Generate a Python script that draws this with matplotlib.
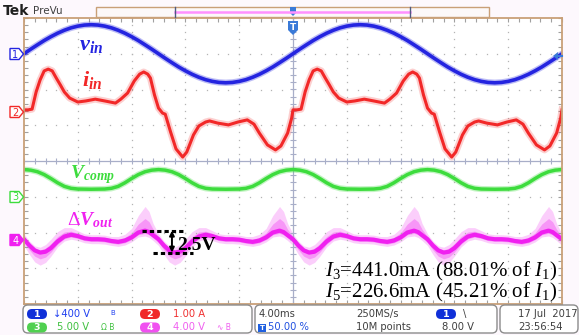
import numpy as np
import matplotlib.pyplot as plt
from matplotlib.patches import FancyBboxPatch, Rectangle, Polygon

plt.rcParams['mathtext.fontset'] = 'custom'
plt.rcParams['mathtext.rm'] = 'Liberation Serif'
plt.rcParams['mathtext.it'] = 'Liberation Serif:italic'
plt.rcParams['mathtext.bf'] = 'Liberation Serif:bold'
plt.rcParams['mathtext.bfit'] = 'Liberation Serif:italic:bold'

# scope settings: units per division, channel offset in divisions
time_per_div = 4.0   # ms
ch_scale = {1: 400.0, 2: 1.0, 3: 5.0, 4: 4.0}
ch_offset = {1: 3.0, 2: 1.37, 3: -1.0, 4: -2.2}

# ch1 v_in (V), one 20 ms line period, 0.5 ms steps
vin_t = np.arange(0, 20, 0.5)
vin = [0, 51, 100, 148, 191, 230, 263, 290, 309, 321,
       325, 321, 309, 290, 263, 230, 191, 148, 100, 51,
       0, -51, -100, -148, -191, -230, -263, -290, -309, -321,
       -325, -321, -309, -290, -263, -230, -191, -148, -100, -51]

# ch2 i_in (A), one 20 ms period
iin_t = [0.0, 0.3, 0.6, 0.9, 1.2, 1.5, 1.8, 2.1, 2.4, 2.7, 3.0, 3.4, 4.0, 4.6,
         5.3, 6.0, 6.8, 7.2, 7.7, 8.2, 8.6, 8.9, 9.2, 9.4, 9.7, 10.0, 10.3,
         10.5, 10.9, 11.3, 11.8, 12.1, 12.6, 13.0, 13.5, 13.8, 14.4, 15.2,
         15.9, 16.6, 17.1, 17.5, 18.1, 18.7, 19.1, 19.6, 19.9]
iin = [0.06, 0.06, 0.08, 0.56, 0.90, 1.15, 1.20, 1.15, 0.95, 0.76, 0.56, 0.39,
       0.28, 0.31, 0.36, 0.31, 0.25, 0.36, 0.53, 0.87, 1.06, 1.12, 1.06, 0.95,
       0.48, 0.11, -0.03, -0.06, -0.56, -1.03, -1.26, -1.12, -0.64, -0.39,
       -0.28, -0.25, -0.31, -0.36, -0.28, -0.22, -0.34, -0.59, -0.92, -1.06,
       -0.95, -0.59, -0.17]

# ch3 Vcomp (V), one 10 ms period
vcomp_t = [0, 0.5, 1, 1.5, 2, 2.5, 3, 3.5, 4, 5, 6, 6.5, 7, 7.5, 8, 8.5, 9, 9.5]
vcomp = [3.8, 3.72, 3.5, 3.1, 2.55, 1.95, 1.45, 1.18, 1.08, 1.05, 1.08, 1.18,
         1.45, 1.95, 2.55, 3.1, 3.5, 3.72]

# ch4 delta Vout (V), one 10 ms period, with persistence spread up / down
dvout_t = [0.0, 0.4, 0.8, 1.2, 1.6, 2.0, 2.5, 3.0, 3.5, 4.0, 4.5, 5.0, 5.5,
           6.0, 6.5, 7.0, 7.5, 8.0, 8.5, 9.0, 9.3, 9.6]
dvout = [0.05, -0.65, -1.2, -1.45, -1.35, -0.95, -0.2, 0.35, 0.55, 0.4, 0.15,
         0.05, 0.05, 0.0, -0.15, -0.25, -0.1, 0.25, 0.8, 1.01, 0.85, 0.5]
dvout_up = [0.6, 0.5, 0.5, 0.6, 0.8, 1.0, 1.1, 1.0, 0.8, 0.6, 0.5, 0.5, 0.5,
            0.5, 0.5, 0.6, 0.7, 1.0, 1.9, 2.7, 2.3, 1.3]
dvout_dn = [0.7, 1.0, 1.3, 1.4, 1.2, 0.9, 0.6, 0.5, 0.5, 0.5, 0.5, 0.5, 0.5,
            0.5, 0.5, 0.5, 0.5, 0.5, 0.5, 0.6, 0.6, 0.6]

i3_text = r'$I_3$=441.0mA (88.01% of $I_1$)'
i5_text = r'$I_5$=226.6mA (45.21% of $I_1$)'

t_end = 10 * time_per_div


def repeat(t, v, period):
    # the waveforms are periodic: repeat the read period across the screen
    n = int(round(t_end / period))
    tt = np.concatenate([np.asarray(t) + k * period for k in range(n)] + [[t_end]])
    vv = np.concatenate([np.asarray(v, float)] * n + [[v[0]]])
    return tt, vv


def to_div(v, ch):
    return ch_offset[ch] + np.asarray(v) / ch_scale[ch]


blue, red, green, pink = '#2424e0', '#f22828', '#3ddc3d', '#f020f0'

fig = plt.figure(figsize=(5.79, 3.35), dpi=100, facecolor='#fdf8fd')
ax = fig.add_axes([24 / 579, 1 - 304 / 335, 538 / 579, 286 / 335])
ax.set_facecolor('white')
ax.set_xlim(0, t_end)
ax.set_ylim(-4, 4)

# graticule
ax.set_xticks(np.arange(0, t_end + 0.1, time_per_div))
ax.set_xticks(np.arange(0, t_end + 0.1, time_per_div / 5), minor=True)
ax.set_yticks(np.arange(-4, 5, 1))
ax.set_yticks(np.arange(-4, 4.01, 0.2), minor=True)
ax.tick_params(which='both', direction='in', top=True, right=True,
               labelbottom=False, labelleft=False, color='#a0a0a0',
               length=3, width=0.8)
for s in ax.spines.values():
    s.set_color('#c9a078')
    s.set_linewidth(1.3)

minor_t = np.arange(0, t_end + 0.1, time_per_div / 5)
minor_y = np.arange(-4, 4.01, 0.2)
for k in range(1, 10):
    if k != 5:
        ax.plot(np.full(minor_y.size, k * time_per_div), minor_y, ls='none',
                marker='s', ms=0.9, color='#b4b4b4', mew=0)
for j in range(-3, 4):
    if j != 0:
        ax.plot(minor_t, np.full(minor_t.size, j), ls='none',
                marker='s', ms=0.9, color='#b4b4b4', mew=0)
ax.axvline(t_end / 2, color='#a8aec8', lw=0.9)
ax.axhline(0, color='#a8aec8', lw=0.9)
ax.plot(minor_t, np.zeros(minor_t.size), ls='none', marker='|', ms=4,
        color='#a8aec8', mew=0.8)
ax.plot(np.full(minor_y.size, t_end / 2), minor_y, ls='none', marker='_',
        ms=4, color='#a8aec8', mew=0.8)

# traces
t1, v1 = repeat(vin_t, vin, 20)
ax.plot(t1, to_div(v1, 1), color=blue, lw=4.6, alpha=0.3, solid_capstyle='round')
ax.plot(t1, to_div(v1, 1), color=blue, lw=2.6)

t2, v2 = repeat(iin_t, iin, 20)
ax.plot(t2, to_div(v2, 2), color=red, lw=5.0, alpha=0.22, solid_joinstyle='round')
ax.plot(t2, to_div(v2, 2), color=red, lw=2.2, solid_joinstyle='round')

t3, v3 = repeat(vcomp_t, vcomp, 10)
ax.plot(t3, to_div(v3, 3), color=green, lw=4.4, alpha=0.3)
ax.plot(t3, to_div(v3, 3), color=green, lw=2.5)

t4, v4 = repeat(dvout_t, dvout, 10)
_, up4 = repeat(dvout_t, dvout_up, 10)
_, dn4 = repeat(dvout_t, dvout_dn, 10)
ax.fill_between(t4, to_div(v4 + up4, 4), to_div(v4 - dn4, 4), color=pink,
                alpha=0.22, lw=0)
ax.fill_between(t4, to_div(v4 + up4 / 2, 4), to_div(v4 - dn4 / 2, 4),
                color=pink, alpha=0.32, lw=0)
ax.plot(t4, to_div(v4, 4), color=pink, lw=3.0, solid_joinstyle='round')

# labels on the traces
ax.text(4.1, 3.1, r'$\mathbfit{v}_{\mathbfit{in}}$', color=blue, fontsize=16,
        va='baseline')
ax.text(4.3, 2.1, r'$\mathbfit{i}_{\mathbfit{in}}$', color=red, fontsize=16,
        va='baseline')
ax.text(3.4, -0.48, r'$\mathbfit{V}_{\mathbfit{comp}}$', color=green,
        fontsize=14, va='baseline')
ax.text(3.2, -1.8, r'$\Delta\mathbfit{V}_{\mathbfit{out}}$', color=pink,
        fontsize=14, va='baseline')

# ripple annotation
top = to_div(max(dvout), 4)
bot = to_div(min(dvout), 4)
ax.plot([8.8, 11.8], [top, top], color='black', lw=2.2, dashes=(1.4, 1.0))
ax.plot([9.6, 12.6], [bot, bot], color='black', lw=2.2, dashes=(1.4, 1.0))
ax.annotate('', xy=(11.0, bot), xytext=(11.0, top),
            arrowprops=dict(arrowstyle='<|-|>', color='black', lw=1.4,
                            mutation_scale=7, shrinkA=0, shrinkB=0))
ax.text(11.4, -2.48, '2.5V', fontsize=14, fontfamily='Liberation Serif',
        fontweight='bold', va='baseline')

ax.text(39.6, -3.22, i3_text, fontsize=15, fontfamily='Liberation Serif',
        ha='right', va='baseline')
ax.text(39.6, -3.83, i5_text, fontsize=15, fontfamily='Liberation Serif',
        ha='right', va='baseline')

# scope frame decorations, in screen pixels
ov = fig.add_axes([0, 0, 1, 1], zorder=3)
ov.set_xlim(0, 579)
ov.set_ylim(335, 0)
ov.axis('off')
ov.patch.set_alpha(0)

ov.text(3, 11, 'Tek', fontsize=10, fontweight='bold', color='#202020', va='center')
ov.text(33, 11, 'PreVu', fontsize=7.5, color='#404040', va='center')
ov.add_patch(Rectangle((96, 7), 393, 10, fc='#fcf8f8', ec='#c9a078', lw=1))
ov.plot([175, 410], [11.5, 11.5], color='#ff90ff', lw=1.8)
ov.plot([175, 175], [7, 17], color='#505a80', lw=1)
ov.plot([410, 410], [7, 17], color='#505a80', lw=1)
ov.add_patch(Polygon([(290, 7), (296, 7), (296, 13), (293, 16), (290, 13)],
                     fc='#3a7ad8', ec='none'))
ov.add_patch(Polygon([(288, 21), (298, 21), (298, 30), (293, 35), (288, 30)],
                     fc='#3a7ad8', ec='none'))
ov.text(293, 27, 'T', color='white', fontsize=6.5, fontweight='bold',
        ha='center', va='center')
ov.add_patch(Polygon([(553, 56), (558, 52), (558, 60)], fc='#3a7ad8', ec='none'))
ov.plot([557, 562], [56, 56], color='#3a7ad8', lw=1.5)

# channel markers on the left
for ch, y, col, filled in [(1, 54, blue, False), (2, 112, red, False),
                           (3, 197, green, False), (4, 240, pink, True)]:
    ov.add_patch(Polygon([(10, y - 5.5), (19, y - 5.5), (23.5, y),
                          (19, y + 5.5), (10, y + 5.5)],
                         fc=col if filled else 'white', ec=col, lw=1))
    ov.text(15.5, y + 0.5, str(ch), color='white' if filled else col,
            fontsize=7, ha='center', va='center')

# status bar
for x0, x1 in [(23, 252), (255, 497), (500, 578)]:
    ov.add_patch(FancyBboxPatch((x0, 305), x1 - x0, 28,
                                boxstyle='round,pad=0,rounding_size=5',
                                fc='white', ec='#8c8c8c', lw=1))


def pill(x, y, col, label):
    ov.add_patch(FancyBboxPatch((x, y - 5), 20, 10,
                                boxstyle='round,pad=0,rounding_size=5',
                                fc=col, ec='none'))
    ov.text(x + 10, y + 0.3, label, color='white', fontsize=6.8,
            fontweight='bold', ha='center', va='center')


r1, r2 = 314, 327.5
fs = 7.2
pill(27, r1, '#1030d8', '1')
ov.text(53, r1, '\u2193400 V', color='#2040f0', fontsize=fs, va='center')
ov.text(110, r1 - 1, 'B', color='#2040f0', fontsize=5, va='center')
pill(27, r2, '#50d050', '3')
ov.text(57, r2, '5.00 V', color='#40c040', fontsize=fs, va='center')
ov.text(101, r2, '\u03a9 B', color='#40c040', fontsize=5.5, va='center')
pill(140, r1, '#f02828', '2')
ov.text(173, r1, '1.00 A', color='#f03030', fontsize=fs, va='center')
pill(140, r2, '#f050f0', '4')
ov.text(173, r2, '4.00 V', color='#f060f0', fontsize=fs, va='center')
ov.text(217, r2, '\u223f B', color='#f060f0', fontsize=5.5, va='center')

ov.text(259, r1, '4.00ms', color='#404040', fontsize=fs, va='center')
ov.add_patch(Rectangle((258, r2 - 4), 8, 8, fc='#2060e0', ec='none'))
ov.text(262, r2, 'T', color='white', fontsize=5, fontweight='bold',
        ha='center', va='center')
ov.text(268, r2, '50.00 %', color='#2050e0', fontsize=fs, va='center')
ov.text(356, r1, '250MS/s', color='#404040', fontsize=fs, va='center')
ov.text(356, r2, '10M points', color='#404040', fontsize=fs, va='center')
pill(436, r1, '#1030d8', '1')
ov.text(463, r1, '\\', color='#404040', fontsize=fs, va='center')
ov.text(442, r2, '8.00 V', color='#404040', fontsize=fs, va='center')
ov.text(518, r1, '17 Jul  2017', color='#404040', fontsize=fs, va='center')
ov.text(518, r2, '23:56:54', color='#404040', fontsize=fs, va='center')

fig.savefig('out.png', dpi=100, facecolor=fig.get_facecolor())
